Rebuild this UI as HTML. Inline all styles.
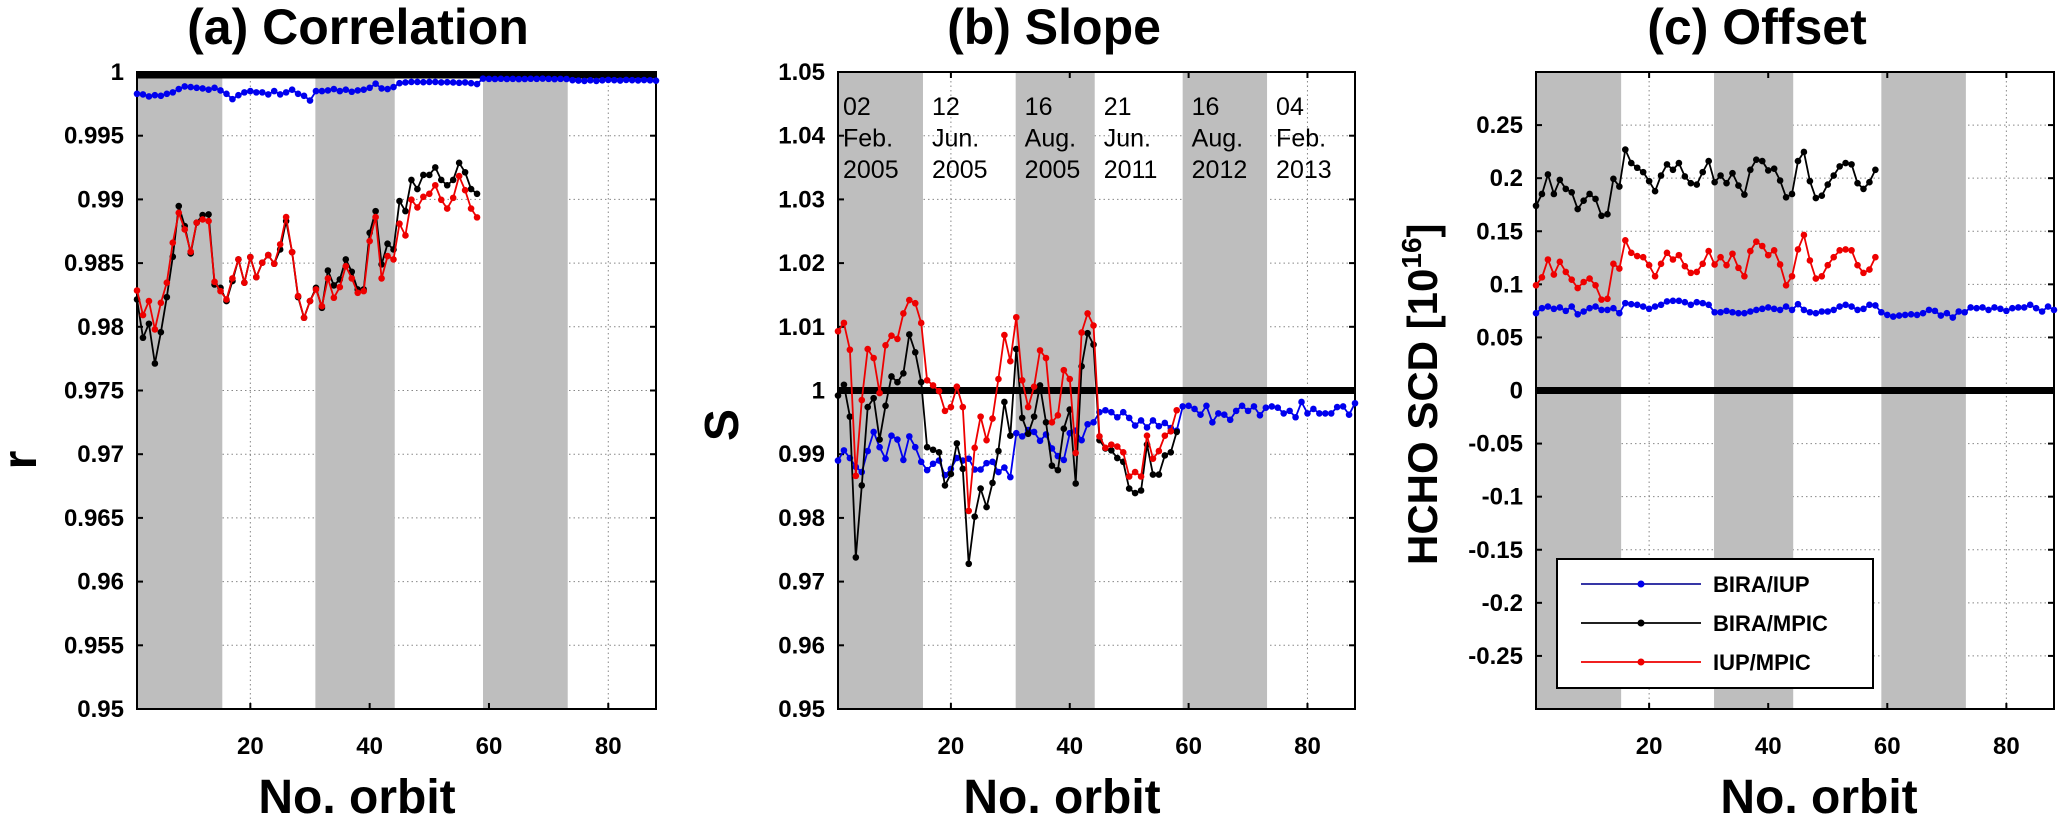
<!DOCTYPE html>
<html><head><meta charset="utf-8"><style>
html,body{margin:0;padding:0;background:#fff;}
svg{display:block;font-family:"Liberation Sans",Arial,sans-serif;}
</style></head><body>
<svg id="fig" width="2067" height="815" viewBox="0 0 2067 815" xmlns="http://www.w3.org/2000/svg"></svg>
<script>
// ---------- data ----------
const orbitsAll = Array.from({length:88},(_,i)=>i+1);
const orbits58 = Array.from({length:58},(_,i)=>i+1);
const bands = [[1,15.3],[30.9,44.2],[59,73.2]];
const xTicks = [20,40,60,80];

const corrBlue = [.99829,.99824,.99808,.99818,.99813,.99829,.9984,.99866,.99887,.99882,.99876,.99871,.99861,.99876,.99855,.99829,.99787,.99818,.9984,.9985,.9984,.9984,.99824,.9985,.99824,.9984,.99861,.99829,.99813,.99776,.9985,.9985,.99855,.99866,.9985,.99861,.99845,.99855,.99861,.99876,.99908,.99871,.99866,.99882,.99912,.99918,.99922,.99922,.9992,.99922,.99922,.99918,.9992,.99918,.99915,.99918,.99912,.99905,.99948,.99946,.99945,.99947,.99945,.99946,.99944,.99945,.99947,.99946,.99948,.99946,.99944,.99946,.99945,.99936,.99933,.9993,.99935,.9993,.99935,.99938,.99936,.99933,.99938,.99936,.99934,.99937,.99935,.99932];
const corrBlack = [.98215,.97914,.98024,.97712,.97958,.98233,.9855,.98948,.98791,.98576,.98817,.98877,.98882,.98332,.98306,.98202,.98359,.98529,.98346,.98547,.9839,.98503,.98563,.98495,.98607,.9883,.98586,.98233,.98071,.98202,.98306,.98149,.98442,.98325,.98372,.98529,.98432,.98293,.98293,.98738,.98908,.9849,.98652,.98607,.98987,.98908,.99153,.99081,.99192,.99192,.99251,.99153,.99111,.99153,.99287,.99213,.99081,.99044];
const corrRed = [.98285,.98092,.98202,.97979,.98188,.98346,.9866,.98895,.98764,.98589,.98817,.98843,.9883,.98353,.9828,.98215,.9838,.98529,.98346,.98547,.9839,.98503,.98563,.98495,.98647,.98861,.98586,.98241,.98071,.98202,.98293,.98162,.9838,.98228,.98312,.98476,.9838,.98267,.9828,.98673,.98861,.9838,.98555,.98529,.98809,.98717,.98998,.98937,.9902,.99044,.99111,.98997,.98928,.99012,.99183,.99072,.98928,.98859];

const slopeBlue = [.9890,.9906,.9894,.9880,.9872,.9905,.9935,.9911,.9893,.9929,.9923,.9891,.9928,.9911,.9888,.9875,.9885,.9890,.9867,.9877,.9894,.9890,.9893,.9876,.9876,.9886,.9888,.9872,.9879,.9864,.9933,.9928,.9938,.9935,.9921,.9931,.9909,.9897,.9891,.9933,.9937,.9922,.9947,.9950,.9966,.9969,.9966,.9958,.9966,.9957,.9945,.9953,.9942,.9953,.9944,.9949,.9941,.9937,.9975,.9976,.9971,.9962,.9976,.9950,.9964,.9962,.9954,.9968,.9976,.9968,.9975,.9961,.9973,.9975,.9973,.9964,.9968,.9958,.9982,.9964,.9971,.9964,.9964,.9964,.9974,.9975,.9962,.9980];
const slopeBlack = [.9992,1.0009,.9959,.9738,.9851,.9974,.9988,.9923,.9976,1.0022,1.0013,1.0027,1.0088,1.0060,1.0013,.9911,.9907,.9903,.9851,.9869,.9917,.9877,.9728,.9802,.9846,.9817,.9855,.9905,.9982,.9929,1.0065,.9957,.9932,.9959,1.0008,.9950,.9882,.9875,.9940,.9970,.9854,1.0038,1.0090,1.0072,.9922,.9909,.9906,.9894,.9888,.9846,.9839,.9843,.9915,.9868,.9868,.9898,.9903,.9935];
const slopeRed = [1.0093,1.0106,1.0064,.9866,.9985,1.0065,1.0051,.9996,1.0071,1.0086,1.0081,1.0121,1.0142,1.0137,1.0106,1.0016,1.0008,.9999,.9968,.9974,1.0006,.9974,.9811,.9910,.9959,.9922,.9956,1.0018,1.0087,1.0046,1.0115,1.0016,.9974,1.0006,1.0063,1.0051,.9950,.9961,1.0032,1.0018,.9902,1.0091,1.0121,1.0102,.9928,.9910,.9915,.9912,.9903,.9865,.9872,.9865,.9929,.9893,.9905,.9929,.9936,.9969];

const offBlue = [.0728,.0775,.0791,.0769,.0782,.075,.0791,.0718,.0744,.0775,.0791,.0759,.0759,.0775,.0728,.0823,.0813,.0807,.0791,.0769,.0791,.0807,.0839,.0845,.0845,.0832,.0807,.0832,.0823,.0807,.0737,.0737,.075,.0737,.0728,.0728,.0744,.0759,.0769,.0782,.0769,.0759,.0791,.0759,.0813,.0759,.0737,.0728,.0744,.0744,.0759,.0791,.0807,.0791,.0759,.0769,.0807,.0801,.0737,.0712,.0696,.0706,.0712,.0718,.0712,.0728,.0759,.075,.0706,.0728,.0687,.0744,.0737,.0782,.0775,.0782,.0759,.0782,.0769,.075,.0775,.0782,.0782,.0807,.0775,.0744,.0791,.0759];
const offBlack = [.174,.1851,.2035,.1851,.1984,.1899,.1867,.1709,.1788,.1851,.1804,.1646,.1661,.1994,.1921,.2269,.2142,.2098,.2057,.1972,.1877,.2025,.213,.2079,.2142,.2016,.1953,.194,.2057,.2161,.1962,.2025,.1953,.2047,.193,.1845,.2079,.2174,.2161,.2073,.2089,.1978,.182,.1851,.2161,.2247,.1972,.1813,.1835,.194,.2025,.2111,.2142,.213,.1953,.1899,.1962,.2079];
const offRed = [.0991,.1066,.1234,.1092,.1212,.1117,.1044,.0965,.1022,.1054,.0991,.0856,.0864,.1193,.1149,.1415,.1297,.1266,.1256,.118,.1076,.1193,.1297,.1234,.1275,.1171,.1108,.1117,.1193,.1313,.1187,.1256,.118,.1288,.1155,.1076,.1313,.1402,.1361,.1275,.132,.1187,.0991,.1076,.1329,.1465,.1225,.1054,.1076,.118,.1256,.132,.1329,.132,.118,.1108,.1139,.1256];

const corrTicks = ["0.95","0.955","0.96","0.965","0.97","0.975","0.98","0.985","0.99","0.995","1"];
const slopeTicks = ["0.95","0.96","0.97","0.98","0.99","1","1.01","1.02","1.03","1.04","1.05"];
const offTicks = ["-0.25","-0.2","-0.15","-0.1","-0.05","0","0.05","0.1","0.15","0.2","0.25"];
const dateLines1 = ["02","12","16","21","16","04"];
const dateLines2 = ["Feb.","Jun.","Aug.","Jun.","Aug.","Feb."];
const dateLines3 = ["2005","2005","2005","2011","2012","2013"];
const legendLabels = ["BIRA/IUP","BIRA/MPIC","IUP/MPIC"];

// ---------- drawing ----------
const NS="http://www.w3.org/2000/svg";
const svg=document.getElementById('fig');
function el(tag,attrs,parent){const e=document.createElementNS(NS,tag);for(const k in attrs)e.setAttribute(k,attrs[k]);(parent||svg).appendChild(e);return e;}
const COL={blue:"#0000ee",black:"#000000",red:"#ee0000"};
const TOP=72,BOT=709;

function panel(p){
  const g=el('g',{});
  
  
  const X=o=>p.x0+(o-1)/(87)*(p.x1-p.x0);
  const Y=v=>BOT-(v-p.ymin)/(p.ymax-p.ymin)*(BOT-TOP);
  // gridlines
  p.ticks.forEach(t=>{const v=parseFloat(t);const y=Y(v);if(y>TOP+2&&y<BOT-2){
    const gl=el('line',{x1:p.x0,x2:p.x1,y1:y,y2:y,stroke:"#888",'stroke-width':1,'stroke-dasharray':"1.5,3"},g);
    }});
  xTicks.forEach(t=>{const x=X(t);
    const gl=el('line',{x1:x,x2:x,y1:TOP,y2:BOT,stroke:"#888",'stroke-width':1,'stroke-dasharray':"1.5,3"},g);
    });
  // bands
  bands.forEach(b=>{const r=el('rect',{x:X(b[0]),y:TOP,width:X(b[1])-X(b[0]),height:BOT-TOP,fill:"#bebebe"},g);
    });
  // reference thick line
  const ry=Y(p.ref);
  const rl=el('line',{x1:p.x0,x2:p.x1,y1:Math.max(ry,TOP+3),y2:Math.max(ry,TOP+3),stroke:"#000",'stroke-width':7},g);
  
  // axes box
  const box=el('rect',{x:p.x0,y:TOP,width:p.x1-p.x0,height:BOT-TOP,fill:"none",stroke:"#000",'stroke-width':2},g);
  
  // ticks + labels
  p.ticks.forEach(t=>{const y=Y(parseFloat(t));
    el('line',{x1:p.x0,x2:p.x0+6,y1:y,y2:y,stroke:"#000",'stroke-width':2},g);
    el('line',{x1:p.x1,x2:p.x1-6,y1:y,y2:y,stroke:"#000",'stroke-width':2},g);
    const tx=el('text',{x:p.x0-13,y:y+8,'text-anchor':"end",'font-size':24,'font-weight':"bold"},g);
    tx.textContent=t;
    });
  xTicks.forEach(t=>{const x=X(t);
    el('line',{x1:x,x2:x,y1:BOT,y2:BOT-6,stroke:"#000",'stroke-width':2},g);
    el('line',{x1:x,x2:x,y1:TOP,y2:TOP+6,stroke:"#000",'stroke-width':2},g);
    const tx=el('text',{x:x,y:754,'text-anchor':"middle",'font-size':24,'font-weight':"bold"},g);
    tx.textContent=t;
    });
  // series
  p.series.forEach(s=>{
    const pts=s.v.map((v,i)=>X(s.o[i]).toFixed(1)+","+Y(v).toFixed(1)).join(" ");
    const pl=el('polyline',{points:pts,fill:"none",stroke:COL[s.c],'stroke-width':1.8},g);
    
    s.v.forEach((v,i)=>{const c=el('circle',{cx:X(s.o[i]),cy:Y(v),r:3.3,fill:COL[s.c]},g);
      });
  });
  // titles
  const ti=el('text',{x:p.tx,y:44,'text-anchor':"middle",'font-size':50,'font-weight':"bold"},g);
  ti.textContent=p.title;
  const xl=el('text',{x:p.xlx,y:813,'text-anchor':"middle",'font-size':48,'font-weight':"bold"},g);
  xl.textContent="No. orbit";
  return {g,X,Y};
}

const A=panel({name:'panel-correlation',x0:137,x1:656,ymin:.95,ymax:1,ref:1,ticks:corrTicks,title:"(a) Correlation",tx:358,xlx:357,
  series:[{n:'bira-iup',c:'blue',o:orbitsAll,v:corrBlue},{n:'bira-mpic',c:'black',o:orbits58,v:corrBlack},{n:'iup-mpic',c:'red',o:orbits58,v:corrRed}]});
const B=panel({name:'panel-slope',x0:838,x1:1355,ymin:.95,ymax:1.05,ref:1,ticks:slopeTicks,title:"(b) Slope",tx:1054,xlx:1062,
  series:[{n:'bira-iup',c:'blue',o:orbitsAll,v:slopeBlue},{n:'bira-mpic',c:'black',o:orbits58,v:slopeBlack},{n:'iup-mpic',c:'red',o:orbits58,v:slopeRed}]});
const C=panel({name:'panel-offset',x0:1536,x1:2054,ymin:-.3,ymax:.3,ref:0,ticks:offTicks,title:"(c) Offset",tx:1757,xlx:1819,
  series:[{n:'bira-iup',c:'blue',o:orbitsAll,v:offBlue},{n:'bira-mpic',c:'black',o:orbits58,v:offBlack},{n:'iup-mpic',c:'red',o:orbits58,v:offRed}]});

// y axis titles
let t=el('text',{x:0,y:0,'text-anchor':"middle",'font-size':48,'font-weight':"bold",transform:"translate(36,460) rotate(-90)"});
t.textContent="r";
t=el('text',{x:0,y:0,'text-anchor':"middle",'font-size':48,'font-weight':"bold",transform:"translate(738,425) rotate(-90)"});
t.textContent="S";
t=el('text',{x:0,y:0,'text-anchor':"start",'font-size':42,'font-weight':"bold",transform:"translate(1437,565) rotate(-90)"});

t.appendChild(document.createTextNode("HCHO SCD [10"));
let sp=document.createElementNS(NS,'tspan');sp.setAttribute('dy','-16');sp.setAttribute('font-size','28');sp.textContent="16";t.appendChild(sp);
sp=document.createElementNS(NS,'tspan');sp.setAttribute('dy','16');sp.textContent="]";t.appendChild(sp);

// date annotations in panel b
const edges=[1,15.3,30.9,44.2,59,73.2];
dateLines1.forEach((d,i)=>{
  const x=B.X(edges[i])+(i===0?5:9);
  [dateLines1[i],dateLines2[i],dateLines3[i]].forEach((s,j)=>{
    const tx=el('text',{x:x,y:115+j*31.5,'font-size':25});
    tx.textContent=s;
    
    
  });
});

// legend
const lg=el('g',{});


el('rect',{x:1557,y:559,width:316,height:129,fill:"#fff",stroke:"#000",'stroke-width':2},lg);
const legCols=["#1a1a99","#000","#ee0000"];
const legDot=["blue","black","red"];
legendLabels.forEach((lab,i)=>{
  const y=584+i*39;
  const e=el('g',{},lg);
  
  
  el('line',{x1:1581,x2:1701,y1:y,y2:y,stroke:legCols[i],'stroke-width':1.8},e);
  el('circle',{cx:1641,cy:y,r:3.5,fill:COL[legDot[i]]},e);
  const tx=el('text',{x:1713,y:y+8,'font-size':22,'font-weight':"bold"},e);
  tx.textContent=lab;
});
</script>
</body></html>
